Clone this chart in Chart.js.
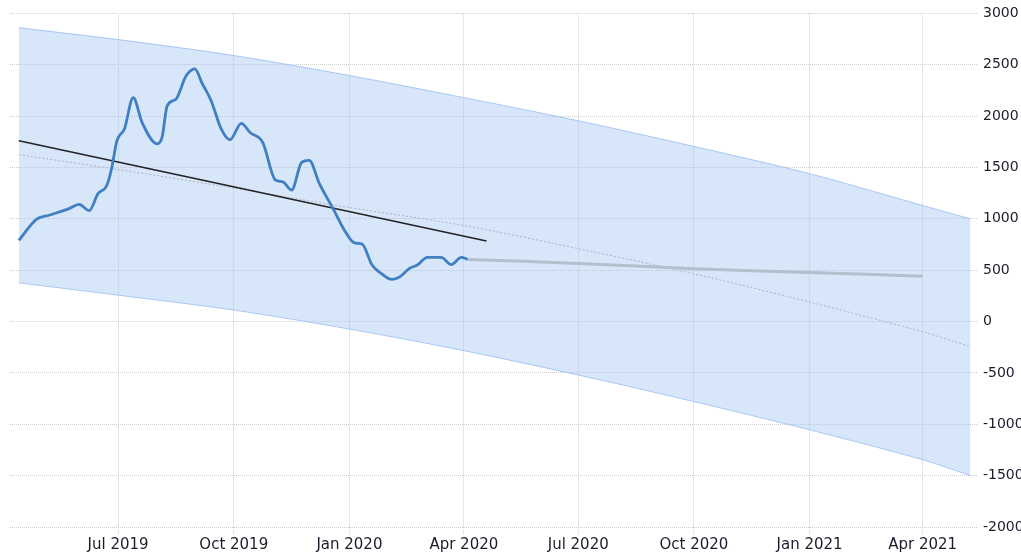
<!DOCTYPE html>
<html>
<head>
<meta charset="utf-8">
<script src="https://cdn.jsdelivr.net/npm/chart.js@4/dist/chart.umd.min.js"></script>
<style>
  html, body { margin: 0; padding: 0; background: #fff; }
  #wrap { width: 1021px; height: 558px; position: relative; }
</style>
</head>
<body>
<div id="wrap"><canvas id="chart"></canvas></div>
<script>
// actual series
const mainDates = [
  '2019-04-13', '2019-04-27', '2019-05-07', '2019-05-23', '2019-05-31', '2019-06-08',
  '2019-06-15', '2019-06-22', '2019-06-26', '2019-06-30', '2019-07-06', '2019-07-13',
  '2019-07-20', '2019-08-01', '2019-08-05', '2019-08-09', '2019-08-16', '2019-08-24',
  '2019-08-31', '2019-09-06', '2019-09-13', '2019-09-21', '2019-09-28', '2019-10-07',
  '2019-10-14', '2019-10-24', '2019-11-03', '2019-11-09', '2019-11-16', '2019-11-24',
  '2019-11-30', '2019-12-08', '2019-12-19', '2019-12-28', '2020-01-05', '2020-01-11',
  '2020-01-19', '2020-01-25', '2020-02-04', '2020-02-10', '2020-02-18', '2020-02-24',
  '2020-03-03', '2020-03-14', '2020-03-22', '2020-03-30', '2020-04-04'
];
const mainValues = [
  790, 995, 1035, 1100, 1140, 1080,
  1245, 1325, 1500, 1760, 1875, 2180,
  1940, 1730, 1795, 2100, 2165, 2390,
  2460, 2315, 2150, 1875, 1770, 1930,
  1840, 1745, 1380, 1360, 1280, 1550,
  1570, 1345, 1100, 890, 765, 755,
  550, 480, 410, 435, 520, 550,
  625, 625, 555, 625, 605
];

// forecast
const forecastDates = ['2020-04-04', '2020-07-01', '2020-10-01', '2021-01-01', '2021-04-01'];
const forecastValues = [605, 566, 515, 477, 442];

// linear trend
const trendDates = ['2019-04-13', '2020-04-19'];
const trendValues = [1760, 785];

// long-term trend (dotted)
const longDates = ['2019-04-13', '2019-07-01', '2019-10-01', '2020-01-01', '2020-04-01',
  '2020-07-01', '2020-10-01', '2021-01-01', '2021-04-01', '2021-05-09'];
const longValues = [1625, 1480, 1300, 1110, 935, 710, 465, 190, -100, -245];

// confidence band
const bandDates = ['2019-04-13', '2019-07-01', '2019-10-01', '2020-01-01', '2020-04-01',
  '2020-07-01', '2020-10-01', '2021-01-01', '2021-04-01', '2021-05-09'];
const bandUpper = [2860, 2745, 2590, 2395, 2180, 1955, 1705, 1440, 1130, 1000];
const bandLower = [377, 257, 112, -73, -283, -520, -779, -1054, -1345, -1500];

// x axis ticks
const tickDates = ['2019-07-01', '2019-10-01', '2020-01-01', '2020-04-01',
  '2020-07-01', '2020-10-01', '2021-01-01', '2021-04-01'];
const tickLabels = ['Jul 2019', 'Oct 2019', 'Jan 2020', 'Apr 2020',
  'Jul 2020', 'Oct 2020', 'Jan 2021', 'Apr 2021'];

function toMs(s) {
  const p = s.split('-');
  return Date.UTC(+p[0], +p[1] - 1, +p[2]);
}
function pts(dates, values) {
  return dates.map((d, i) => ({ x: toMs(d), y: values[i] }));
}

const tickMs = tickDates.map(toMs);
const gridColor = '#cdcdcd';

new Chart(document.getElementById('chart'), {
  type: 'line',
  data: {
    datasets: [
      {
        data: pts(mainDates, mainValues),
        borderColor: '#3f7fc2',
        borderWidth: 2.8,
        pointRadius: 0,
        cubicInterpolationMode: 'monotone',
        fill: false,
        order: 0
      },
      {
        data: pts(forecastDates, forecastValues),
        borderColor: '#b3bfcd',
        borderWidth: 3,
        pointRadius: 0,
        tension: 0.3,
        fill: false,
        order: 1
      },
      {
        data: pts(trendDates, trendValues),
        borderColor: '#222222',
        borderWidth: 1.5,
        pointRadius: 0,
        fill: false,
        order: 2
      },
      {
        data: pts(longDates, longValues),
        borderColor: '#a9b3bf',
        borderWidth: 1,
        borderDash: [2, 2],
        pointRadius: 0,
        tension: 0.3,
        fill: false,
        order: 3
      },
      {
        data: pts(bandDates, bandUpper),
        borderColor: 'rgba(150,188,240,0.8)',
        borderWidth: 1,
        backgroundColor: 'rgba(160,195,240,0.42)',
        pointRadius: 0,
        tension: 0.3,
        fill: '+1',
        order: 4
      },
      {
        data: pts(bandDates, bandLower),
        borderColor: 'rgba(150,188,240,0.8)',
        borderWidth: 1,
        pointRadius: 0,
        tension: 0.3,
        fill: false,
        order: 5
      }
    ]
  },
  options: {
    responsive: true,
    maintainAspectRatio: false,
    animation: false,
    layout: { padding: { left: 10, top: 12, right: 0, bottom: 0 } },
    plugins: {
      legend: { display: false },
      tooltip: { enabled: false }
    },
    scales: {
      x: {
        type: 'linear',
        min: toMs('2019-04-06'),
        max: toMs('2021-05-15'),
        afterBuildTicks: (scale) => {
          scale.ticks = tickMs.map(v => ({ value: v }));
        },
        afterFit: (scale) => { scale.height = 31; },
        ticks: {
          autoSkip: false,
          maxRotation: 0,
          padding: 2,
          color: '#1c1c2c',
          font: { family: 'DejaVu Sans', size: 15 },
          callback: (v) => {
            const i = tickMs.indexOf(v);
            return i >= 0 ? tickLabels[i] : '';
          }
        },
        grid: {
          color: gridColor,
          lineWidth: 1,
          tickLength: 7,
          tickBorderDash: [1, 1]
        },
        border: { display: false, dash: [1, 1] }
      },
      y: {
        position: 'right',
        min: -2000,
        max: 3000,
        afterFit: (scale) => { scale.width = 43; },
        ticks: {
          stepSize: 500,
          padding: 5,
          color: '#1c1c2c',
          font: { family: 'DejaVu Sans', size: 14 },
          callback: (v) => String(v)
        },
        grid: {
          color: gridColor,
          lineWidth: 1,
          drawTicks: false,
          tickLength: 0
        },
        border: { display: false, dash: [1, 1] }
      }
    }
  }
});
</script>
</body>
</html>
